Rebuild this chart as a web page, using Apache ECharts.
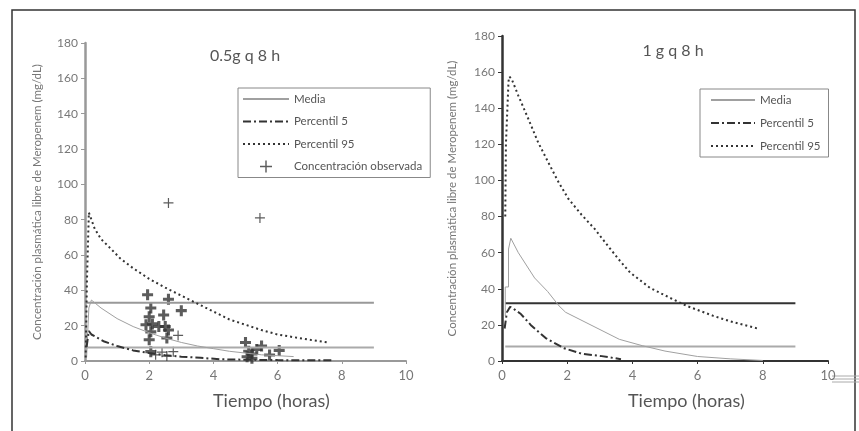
<!DOCTYPE html>
<html>
<head>
<meta charset="utf-8">
<script src="https://cdn.jsdelivr.net/npm/echarts@6/dist/echarts.min.js"></script>
<style>
  html, body { margin: 0; padding: 0; background: #fff; }
  #main { width: 859px; height: 431px; }
</style>
</head>
<body>
<div id="main"></div>
<script>
// tick labels
var xTicks = [0, 2, 4, 6, 8, 10];
var yTicks = [0, 20, 40, 60, 80, 100, 120, 140, 160, 180];

// 0.5 g q 8 h  -  [tiempo, concentracion]
var mediaA = [[0.05, 2], [0.12, 30], [0.2, 34.5], [0.5, 30], [1.0, 24], [1.5, 19.5], [2.0, 16], [2.5, 13], [3.0, 10.5], [3.5, 8.5], [4.0, 7], [4.5, 5.5], [5.0, 4.5], [5.5, 3.5], [6.0, 3], [6.5, 2.5]];
var p5A = [[0.05, 8], [0.12, 17], [0.2, 15], [0.6, 11], [1.0, 8.5], [1.5, 6], [2.0, 4.5], [2.5, 3.3], [3.0, 2.4], [3.6, 1.8], [4.2, 1.0], [5.0, 0.7], [6.0, 0.5], [7.75, 0.4]];
var p95A = [[0.02, 2], [0.06, 45], [0.12, 84], [0.2, 80], [0.3, 75], [0.5, 69], [0.78, 64], [1.1, 58], [1.5, 52.5], [2.0, 46.5], [2.5, 41.5], [3.0, 37], [3.5, 32.5], [4.0, 28], [4.5, 23.5], [5.0, 20.5], [5.5, 17.5], [6.0, 15], [6.5, 13.5], [7.0, 12], [7.55, 10.5]];
var limHighA = [[0, 33], [9, 33]];
var limLowA = [[0, 7.7], [9, 7.7]];
var obsBold = [[1.95, 37.5], [2.6, 35], [3.0, 28.5], [2.05, 30], [2.0, 25], [2.45, 26], [1.9, 20.5], [2.1, 21], [2.3, 19.5], [2.5, 19.5], [2.6, 17.5], [2.05, 16.5], [2.0, 12], [2.55, 13], [2.05, 5.3], [5.0, 10.5], [5.1, 5.5], [5.2, 4], [5.35, 6.5], [5.5, 8.5], [5.05, 2.4], [5.75, 3.4], [6.05, 6], [5.2, 1.5]];
var obsThin = [[2.6, 89.5], [5.45, 81], [2.9, 14.5], [2.4, 5], [2.55, 2.8], [2.75, 5.3], [2.2, 3.5]];

// 1 g q 8 h
var mediaB = [[0.1, 25], [0.1, 41], [0.2, 41], [0.2, 62], [0.27, 68], [0.5, 60], [1.0, 46], [1.4, 38.5], [1.75, 30.5], [1.95, 27], [3.6, 12], [4.3, 8.5], [5.0, 5.5], [6.0, 2.5], [7.0, 1.2], [8.0, 0.3]];
var p5B = [[0.08, 18], [0.15, 27], [0.25, 30], [0.35, 29], [0.58, 26], [0.88, 20], [1.34, 12.7], [1.9, 7.1], [2.45, 4], [3.06, 2.7], [3.65, 1]];
var p95B = [[0.1, 80], [0.12, 120], [0.2, 155], [0.23, 157.5], [0.3, 156], [0.5, 147], [0.81, 134], [1.11, 121], [1.42, 110], [1.72, 99.5], [2.03, 90], [2.44, 81], [2.85, 73], [3.26, 63.5], [3.57, 56.5], [3.93, 49], [4.54, 40.5], [5.15, 35], [5.67, 30.5], [6.48, 25], [7.0, 22], [7.9, 17.7]];
var limHighB = [[0.1, 32], [9, 32]];
var limLowB = [[0.1, 8], [9, 8]];

var font = 'Lato';
var txt = '#555';
var plusBold = 'path://M3.6,0H6.4V3.6H10V6.4H6.4V10H3.6V6.4H0V3.6H3.6Z';
var plusThin = 'path://M4.4,0H5.6V4.4H10V5.6H5.6V10H4.4V5.6H0V4.4H4.4Z';
var yName = 'Concentración plasmática libre de Meropenem (mg/dL)';
var dashDot = [8, 3, 2, 3];
var dotted = [2, 3];

function xAxisFor(idx, axisColor) {
    return {
        type: 'value', gridIndex: idx, min: xTicks[0], max: xTicks[xTicks.length - 1], interval: 2,
        splitLine: { show: false },
        axisLine: { lineStyle: { color: axisColor, width: 2 } },
        axisTick: { length: 3, lineStyle: { color: axisColor } },
        axisLabel: { color: '#777', fontFamily: font, fontSize: 13, margin: 8 }
    };
}
function yAxisFor(idx, axisColor, gap) {
    return {
        type: 'value', gridIndex: idx, min: yTicks[0], max: yTicks[yTicks.length - 1], interval: 20,
        name: yName, nameLocation: 'middle', nameGap: gap,
        nameTextStyle: { color: '#777', fontFamily: font, fontSize: 11.5 },
        splitLine: { show: false },
        axisLine: { lineStyle: { color: axisColor, width: 2.5 } },
        axisTick: { length: 4, lineStyle: { color: axisColor } },
        axisLabel: { color: '#777', fontFamily: font, fontSize: 12, margin: 7 }
    };
}
function lineSeries(name, idx, data, color, width, type) {
    return {
        name: name, type: 'line', xAxisIndex: idx, yAxisIndex: idx, data: data,
        symbol: 'none', animation: false,
        lineStyle: { color: color, width: width, type: type },
        itemStyle: { color: color }
    };
}
function refLine(idx, data, color) {
    return {
        type: 'line', xAxisIndex: idx, yAxisIndex: idx, data: data, symbol: 'none', silent: true,
        animation: false, lineStyle: { color: color, width: 2 }
    };
}
// legend entry of a line: only the stroke, no marker
function lineItem(name) {
    return { name: name, itemStyle: { opacity: 0 } };
}

var chart = echarts.init(document.getElementById('main'));
var option = {
    backgroundColor: '#fff',
    animation: false,
    title: [
        { text: '0.5g q 8 h', left: 240, top: 43, textAlign: 'center', textStyle: { color: txt, fontFamily: font, fontSize: 16, fontWeight: 'normal' } },
        { text: '1 g q 8 h', left: 668, top: 38, textAlign: 'center', textStyle: { color: txt, fontFamily: font, fontSize: 16, fontWeight: 'normal' } }
    ],
    grid: [
        { left: 85, top: 43, width: 321, height: 318 },
        { left: 502, top: 36, width: 326, height: 325 }
    ],
    xAxis: [xAxisFor(0, '#999'), xAxisFor(1, '#333')],
    yAxis: [yAxisFor(0, '#999', 42), yAxisFor(1, '#333', 44)],
    legend: [
        {
            orient: 'vertical', left: 238, top: 88, padding: [5, 8, 5, 4],
            itemWidth: 46, itemHeight: 12, itemGap: 10.5, borderColor: '#888', borderWidth: 1,
            textStyle: { color: txt, fontFamily: font, fontSize: 11.5 },
            data: [lineItem('Media'), lineItem('Percentil 5'), lineItem('Percentil 95'), 'Concentración observada']
        },
        {
            orient: 'vertical', left: 700, top: 89, padding: [5, 8, 5, 10],
            itemWidth: 44, itemHeight: 12, itemGap: 11, borderColor: '#888', borderWidth: 1,
            textStyle: { color: txt, fontFamily: font, fontSize: 11.5 },
            data: [lineItem('Media'), lineItem('Percentil 5'), lineItem('Percentil 95')]
        }
    ],
    graphic: [
        { type: 'rect', shape: { x: 12, y: 10, width: 843, height: 440 }, style: { fill: 'none', stroke: '#333', lineWidth: 1.5 }, silent: true },
        { type: 'line', shape: { x1: 832, y1: 376, x2: 859, y2: 376 }, style: { stroke: '#aaa', lineWidth: 1 }, silent: true },
        { type: 'line', shape: { x1: 832, y1: 379, x2: 859, y2: 379 }, style: { stroke: '#aaa', lineWidth: 1 }, silent: true },
        { type: 'line', shape: { x1: 832, y1: 382, x2: 859, y2: 382 }, style: { stroke: '#aaa', lineWidth: 1 }, silent: true },
        { type: 'text', left: 213, top: 392, style: { text: 'Tiempo (horas)', fill: txt, font: '18px Lato' }, silent: true },
        { type: 'text', left: 628, top: 392, style: { text: 'Tiempo (horas)', fill: txt, font: '18px Lato' }, silent: true }
    ],
    series: [
        refLine(0, limHighA, '#999'),
        refLine(0, limLowA, '#aaa'),
        lineSeries('Media', 0, mediaA, '#a0a0a0', 1, 'solid'),
        lineSeries('Percentil 5', 0, p5A, '#333', 2, dashDot),
        lineSeries('Percentil 95', 0, p95A, '#333', 2, dotted),
        {
            name: 'Concentración observada', type: 'scatter', xAxisIndex: 0, yAxisIndex: 0,
            data: obsThin, symbol: plusThin, symbolSize: 10, itemStyle: { color: '#333' }
        },
        {
            name: 'Concentración observada', type: 'scatter', xAxisIndex: 0, yAxisIndex: 0,
            data: obsBold, symbol: plusBold, symbolSize: 11, itemStyle: { color: '#333' }
        },
        refLine(1, limHighB, '#333'),
        refLine(1, limLowB, '#aaa'),
        lineSeries('Media', 1, mediaB, '#a0a0a0', 1, 'solid'),
        lineSeries('Percentil 5', 1, p5B, '#333', 2, dashDot),
        lineSeries('Percentil 95', 1, p95B, '#333', 2, dotted)
    ]
};
chart.setOption(option);
</script>
</body>
</html>
